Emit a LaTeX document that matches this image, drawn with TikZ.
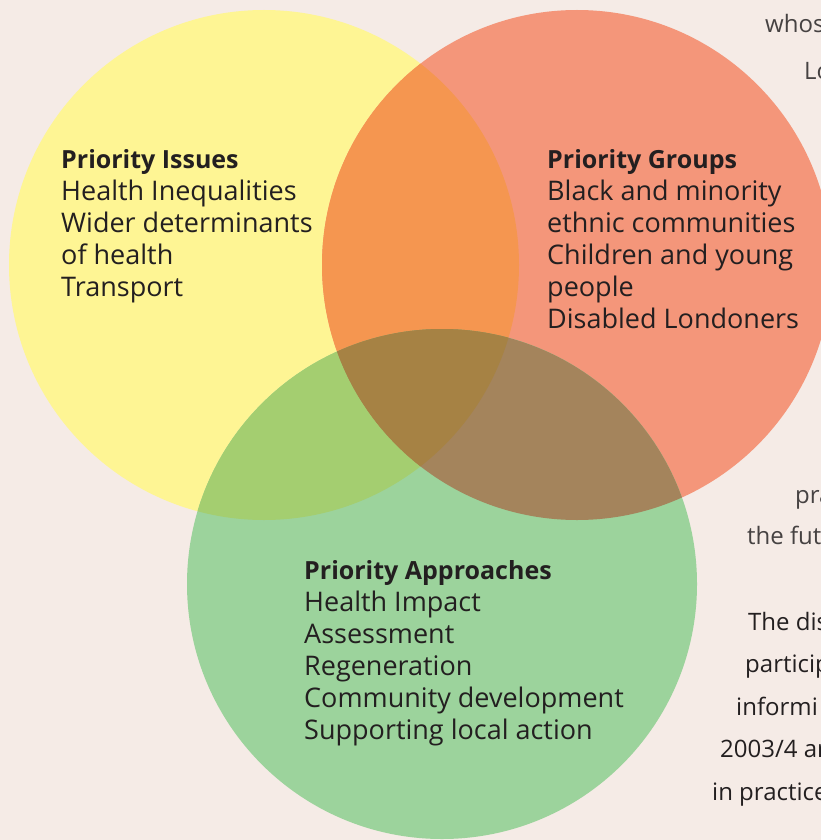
\documentclass[tikz,border=0pt]{standalone}
\usepackage{fontspec}
\setmainfont{Open Sans}
\usepackage{tikz}
\usetikzlibrary{positioning}
\definecolor{pagebg}{RGB}{245,235,230}
\definecolor{issuesyellow}{RGB}{254,245,148}
\definecolor{groupsred}{RGB}{244,150,122}
\definecolor{approachgreen}{RGB}{156,211,156}
\definecolor{issuesgroups}{RGB}{245,150,80}
\definecolor{issuesapproach}{RGB}{164,206,112}
\definecolor{groupsapproach}{RGB}{164,132,92}
\definecolor{allthree}{RGB}{166,130,68}
\definecolor{bodytext}{RGB}{35,31,32}
\definecolor{lighttext}{RGB}{70,66,66}

\newcommand{\boxhead}[1]{{\fontsize{25}{32}\selectfont\bfseries #1}}

\begin{document}
\begin{tikzpicture}[x=1pt, y=-1pt,
	boxtext/.style={anchor=north west, inner sep=0pt, align=left, text=bodytext,
		font=\fontsize{27}{32}\selectfont},
	pagetext/.style={anchor=base west, inner sep=0pt, text=bodytext,
		font=\fontsize{24}{32}\selectfont},
	pagelight/.style={pagetext, text=lighttext}]

\def \rr{255pt}

% circle centres
\coordinate (issues c)   at (264, 265);
\coordinate (groups c)   at (577, 265);
\coordinate (approach c) at (442, 584);

\useasboundingbox (0, 0) rectangle (821, 840);
\clip (0, 0) rectangle (821, 840);
\fill[pagebg] (0, 0) rectangle (821, 840); % page

% running text of the page behind the diagram
\node[pagelight] (t1) at (765, 33)  {whos};
\node[pagelight] (t2) at (804, 80)  {Lo};
\node[pagelight] (t3) at (795, 503) {pra};
\node[pagelight] (t4) at (747, 544) {the fut};
\node[pagetext]  (t5) at (748, 630) {The dis};
\node[pagetext]  (t6) at (745, 672) {particip};
\node[pagetext]  (t7) at (736, 715) {informi};
\node[pagetext]  (t8) at (720, 757) {2003/4 ar};
\node[pagetext]  (t9) at (712, 800) {in practice};

% the three circles
\fill[issuesyellow]  (issues c)   circle[radius=\rr];
\fill[groupsred]     (groups c)   circle[radius=\rr];
\fill[approachgreen] (approach c) circle[radius=\rr];

% overlaps, two at a time
\begin{scope}
	\clip (issues c) circle[radius=\rr];
	\fill[issuesgroups]   (groups c)   circle[radius=\rr];
	\fill[issuesapproach] (approach c) circle[radius=\rr];
\end{scope}
\begin{scope}
	\clip (groups c) circle[radius=\rr];
	\fill[groupsapproach] (approach c) circle[radius=\rr];
	% all three
	\clip (issues c) circle[radius=\rr];
	\fill[allthree] (approach c) circle[radius=\rr];
\end{scope}

\node[boxtext] (issues) at (61, 149) {\boxhead{Priority Issues}\\Health Inequalities\\Wider determinants\\of health\\Transport};
\node[boxtext] (groups) at (547, 149) {\boxhead{Priority Groups}\\Black and minority\\ethnic communities\\Children and young\\people\\Disabled Londoners};
\node[boxtext] (approach) at (304, 560) {\boxhead{Priority Approaches}\\Health Impact\\Assessment\\Regeneration\\Community development\\Supporting local action};

\end{tikzpicture}
\end{document}
